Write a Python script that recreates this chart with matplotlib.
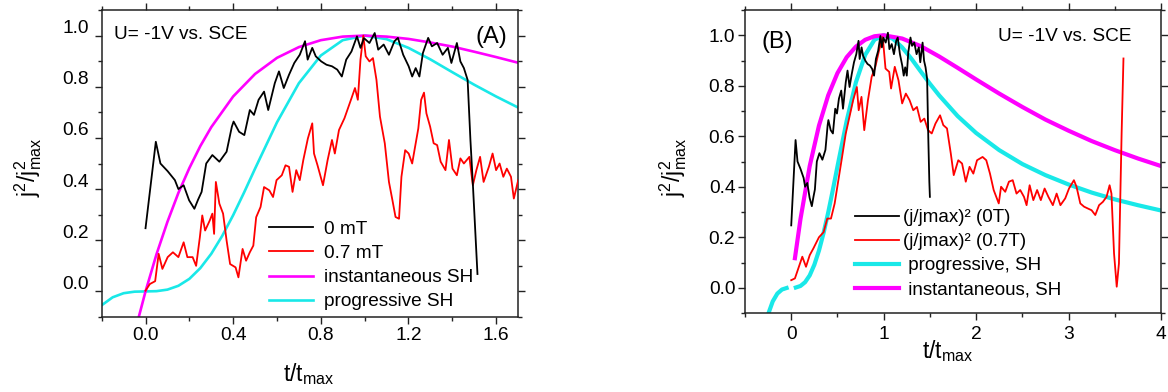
import matplotlib
matplotlib.use("Agg")
import matplotlib.pyplot as plt
import numpy as np
from matplotlib.ticker import MultipleLocator
from matplotlib.transforms import ScaledTranslation

plt.rcParams['font.family'] = ['Liberation Sans', 'DejaVu Sans']
plt.rcParams['mathtext.fontset'] = 'custom'
plt.rcParams['mathtext.rm'] = 'Liberation Sans'
plt.rcParams['mathtext.it'] = 'Liberation Sans:italic'

# ---------------- Panel A data ----------------
bk_t_A = [0.000, 0.047, 0.068, 0.101, 0.134, 0.150, 0.174, 0.199, 0.223, 0.240, 0.256, 0.277,
          0.305, 0.337, 0.370, 0.394, 0.402, 0.427, 0.451, 0.476, 0.495, 0.516, 0.541, 0.560,
          0.590, 0.609, 0.631, 0.655, 0.679, 0.704, 0.728, 0.740, 0.761, 0.777, 0.802, 0.826,
          0.851, 0.875, 0.896, 0.916, 0.940, 0.965, 0.981, 0.997, 1.022, 1.046, 1.062, 1.087,
          1.111, 1.136, 1.152, 1.176, 1.201, 1.217, 1.233, 1.250, 1.266, 1.290, 1.307, 1.331,
          1.356, 1.380, 1.396, 1.421, 1.437, 1.453, 1.470, 1.483, 1.494, 1.515]
bk_y_A = [0.247, 0.585, 0.500, 0.470, 0.435, 0.400, 0.415, 0.356, 0.323, 0.359, 0.389, 0.500,
          0.533, 0.507, 0.546, 0.644, 0.664, 0.624, 0.611, 0.709, 0.690, 0.749, 0.781, 0.709,
          0.814, 0.860, 0.795, 0.847, 0.893, 0.925, 0.978, 0.906, 0.952, 0.919, 0.899, 0.886,
          0.880, 0.867, 0.840, 0.906, 0.938, 0.997, 0.952, 0.990, 0.971, 1.010, 0.945, 0.965,
          0.925, 0.978, 0.991, 0.925, 0.880, 0.840, 0.873, 0.840, 0.932, 0.991, 0.958, 0.971,
          0.925, 0.952, 0.893, 0.971, 0.899, 0.873, 0.827, 0.590, 0.420, 0.068]

rd_t_A = [0.000, 0.020, 0.044, 0.060, 0.077, 0.101, 0.125, 0.150, 0.174, 0.191, 0.215, 0.231,
          0.248, 0.259, 0.272, 0.293, 0.305, 0.313, 0.321, 0.337, 0.354, 0.370, 0.386, 0.411,
          0.424, 0.443, 0.459, 0.476, 0.492, 0.505, 0.525, 0.541, 0.565, 0.582, 0.598, 0.622,
          0.639, 0.655, 0.671, 0.688, 0.704, 0.720, 0.741, 0.761, 0.769, 0.785, 0.810, 0.831,
          0.851, 0.864, 0.883, 0.908, 0.924, 0.940, 0.956, 0.969, 0.981, 0.994, 1.005, 1.022,
          1.038, 1.054, 1.070, 1.092, 1.111, 1.127, 1.141, 1.157, 1.168, 1.185, 1.201, 1.217,
          1.229, 1.245, 1.258, 1.271, 1.282, 1.299, 1.315, 1.331, 1.347, 1.369, 1.385, 1.401,
          1.421, 1.437, 1.453, 1.478, 1.494, 1.510, 1.527, 1.543, 1.567, 1.584, 1.600, 1.616,
          1.633, 1.649, 1.668, 1.681, 1.701]
rd_y_A = [0.003, 0.029, 0.040, 0.147, 0.088, 0.134, 0.153, 0.134, 0.192, 0.134, 0.134, 0.100,
          0.212, 0.297, 0.238, 0.277, 0.304, 0.225, 0.428, 0.343, 0.304, 0.199, 0.107, 0.094,
          0.055, 0.166, 0.120, 0.153, 0.179, 0.290, 0.330, 0.408, 0.395, 0.369, 0.435, 0.454,
          0.493, 0.487, 0.389, 0.474, 0.435, 0.513, 0.598, 0.657, 0.539, 0.493, 0.415, 0.513,
          0.592, 0.539, 0.631, 0.677, 0.716, 0.755, 0.795, 0.749, 0.906, 1.000, 0.919, 0.899,
          0.912, 0.827, 0.683, 0.579, 0.428, 0.356, 0.291, 0.284, 0.448, 0.552, 0.539, 0.500,
          0.559, 0.637, 0.749, 0.777, 0.696, 0.644, 0.579, 0.572, 0.507, 0.474, 0.592, 0.480,
          0.454, 0.520, 0.500, 0.526, 0.415, 0.474, 0.526, 0.428, 0.487, 0.539, 0.474, 0.500,
          0.448, 0.480, 0.448, 0.363, 0.435]

inst_t_A = [-0.04, 0.0, 0.05, 0.10, 0.15, 0.20, 0.25, 0.30, 0.40, 0.50, 0.60, 0.70, 0.80,
            0.90, 1.00, 1.10, 1.20, 1.30, 1.40, 1.50, 1.60, 1.70]
inst_y_A = [-0.130, 0.000, 0.145, 0.272, 0.385, 0.482, 0.568, 0.642, 0.762, 0.850, 0.913,
            0.955, 0.982, 0.996, 1.000, 0.996, 0.987, 0.973, 0.957, 0.937, 0.916, 0.894]

prog_t_A = [-0.20, -0.15, -0.10, -0.05, 0.0, 0.05, 0.10, 0.15, 0.20, 0.25, 0.30, 0.35, 0.40,
            0.45, 0.50, 0.60, 0.70, 0.80, 0.90, 1.00, 1.10, 1.20, 1.30, 1.40, 1.50, 1.60, 1.70]
prog_y_A = [-0.054, -0.023, -0.007, -0.001, 0.000, 0.001, 0.007, 0.022, 0.049, 0.091, 0.147,
            0.217, 0.298, 0.387, 0.480, 0.661, 0.814, 0.922, 0.982, 1.000, 0.986, 0.952,
            0.907, 0.857, 0.808, 0.762, 0.719]

# ---------------- Panel B data ----------------
bk_t_B = bk_t_A[:-1] + [1.50]
bk_y_B = bk_y_A[:-1] + [0.36]

rd_t_B = [0.00, 0.04, 0.12, 0.16, 0.20, 0.24, 0.30, 0.35, 0.39, 0.43, 0.47, 0.51, 0.55, 0.59,
          0.63, 0.67, 0.71, 0.73, 0.76, 0.79, 0.83, 0.87, 0.91, 0.95, 0.99, 1.02, 1.06, 1.08,
          1.12, 1.16, 1.20, 1.24, 1.28, 1.32, 1.36, 1.40, 1.44, 1.48, 1.52, 1.56, 1.61, 1.645,
          1.685, 1.726, 1.758, 1.807, 1.848, 1.888, 1.929, 1.970, 2.010, 2.070, 2.110, 2.150,
          2.190, 2.245, 2.270, 2.315, 2.355, 2.396, 2.437, 2.477, 2.518, 2.546, 2.579, 2.619,
          2.660, 2.700, 2.741, 2.782, 2.830, 2.871, 2.912, 2.964, 3.005, 3.058, 3.086, 3.127,
          3.168, 3.208, 3.249, 3.289, 3.330, 3.371, 3.411, 3.444, 3.464, 3.492, 3.521, 3.545,
          3.574, 3.594]
rd_y_B = [0.030, 0.037, 0.123, 0.083, 0.129, 0.156, 0.200, 0.220, 0.274, 0.274, 0.334, 0.426,
          0.518, 0.611, 0.677, 0.743, 0.795, 0.703, 0.756, 0.624, 0.743, 0.835, 0.875, 0.940,
          0.993, 0.868, 0.855, 0.789, 0.875, 0.822, 0.730, 0.769, 0.743, 0.703, 0.716, 0.657,
          0.670, 0.624, 0.611, 0.650, 0.683, 0.644, 0.631, 0.532, 0.446, 0.505, 0.492, 0.420,
          0.479, 0.452, 0.505, 0.518, 0.505, 0.452, 0.387, 0.334, 0.400, 0.380, 0.420, 0.426,
          0.373, 0.387, 0.360, 0.327, 0.406, 0.347, 0.387, 0.347, 0.393, 0.360, 0.327, 0.373,
          0.327, 0.354, 0.393, 0.426, 0.400, 0.334, 0.321, 0.314, 0.307, 0.288, 0.327, 0.340,
          0.360, 0.406, 0.373, 0.136, 0.004, 0.096, 0.611, 0.908]

prog_t_B = [-0.30, -0.25, -0.20, -0.15, -0.10, -0.05, 0.0, 0.05, 0.10, 0.15, 0.20, 0.25, 0.30,
            0.35, 0.40, 0.45, 0.50, 0.60, 0.70, 0.80, 0.90, 1.00, 1.10, 1.20, 1.30, 1.40, 1.50,
            1.60, 1.80, 2.00, 2.25, 2.50, 2.75, 3.00, 3.25, 3.50, 3.75, 4.00]
prog_y_B = [-0.180, -0.105, -0.054, -0.023, -0.007, -0.001, np.nan, 0.001, 0.007, 0.022,
            0.049, 0.091, 0.147, 0.217, 0.298, 0.387, 0.480, 0.661, 0.814, 0.922, 0.982,
            1.000, 0.986, 0.952, 0.907, 0.857, 0.808, 0.762, 0.680, 0.613, 0.545, 0.490,
            0.446, 0.409, 0.377, 0.350, 0.327, 0.306]

inst_t_B = [0.04, 0.10, 0.20, 0.30, 0.40, 0.50, 0.60, 0.70, 0.80, 0.90, 1.00, 1.20, 1.40,
            1.60, 1.80, 2.00, 2.25, 2.50, 2.75, 3.00, 3.25, 3.50, 3.75, 4.00]
inst_y_B = [0.117, 0.272, 0.482, 0.642, 0.762, 0.850, 0.913, 0.955, 0.982, 0.996, 1.000,
            0.987, 0.957, 0.916, 0.871, 0.825, 0.769, 0.716, 0.666, 0.622, 0.581, 0.545,
            0.512, 0.482]

RED = '#ff0000'
MAG = '#ff00ff'
CYAN = '#19e8e8'
SPINE = '#222222'

W, H, DPI = 1168, 392, 100
fig = plt.figure(figsize=(W / DPI, H / DPI), dpi=DPI)
axA = fig.add_axes([101.7 / W, 1 - 317 / H, 416.3 / W, 307 / H])
axB = fig.add_axes([745 / W, 1 - 313 / H, 416 / W, 303 / H])


def style(ax, xmaj, xmin, xpad, ypad):
    for s in ax.spines.values():
        s.set_linewidth(1.1)
        s.set_color(SPINE)
    ax.xaxis.set_major_locator(MultipleLocator(xmaj))
    ax.xaxis.set_minor_locator(MultipleLocator(xmin))
    ax.yaxis.set_major_locator(MultipleLocator(0.2))
    ax.yaxis.set_minor_locator(MultipleLocator(0.1))
    ax.tick_params(which='major', direction='out', length=5, width=1.0, color=SPINE,
                   labelsize=13.8, top=True, right=True)
    ax.tick_params(which='minor', direction='out', length=3, width=1.0, color=SPINE,
                   top=True, right=True)
    ax.tick_params(axis='x', which='both', pad=xpad)
    ax.tick_params(axis='y', which='both', pad=ypad)


def label_at(ax, axis, text, cx, cy, box, fs):
    # box = (x0_px, top_px, w_px, h_px) of the axes; (cx, cy) = wanted centre in px
    x0, top, w, h = box
    ax_x = (cx - x0) / w
    ax_y = (top + h - cy) / h
    if axis == 'x':
        ax.set_xlabel(text, fontsize=fs)
        ax.xaxis.set_label_coords(ax_x, ax_y)
        ax.xaxis.label.set_va('center')
    else:
        ax.set_ylabel(text, fontsize=fs)
        ax.yaxis.set_label_coords(ax_x, ax_y)
        ax.yaxis.label.set_va('center')
        ax.yaxis.label.set_rotation_mode('anchor')


def fit_legend(ax, handles, labels, fs, x_px, rows_px, hl, htp):
    n = len(rows_px)
    target = (rows_px[-1] - rows_px[0]) / (n - 1)
    ls = 0.3
    top = rows_px[0] - 11
    fs_px = fs * DPI / 72
    leg = None
    for _ in range(4):
        if leg is not None:
            leg.remove()
        leg = ax.legend(handles, labels, frameon=False, fontsize=fs, loc='upper left',
                        bbox_to_anchor=(x_px / W, 1 - top / H),
                        bbox_transform=fig.transFigure, borderpad=0, borderaxespad=0,
                        handlelength=hl, handletextpad=htp, labelspacing=ls)
        fig.canvas.draw()
        r = fig.canvas.get_renderer()
        cs = []
        for t in leg.get_texts():
            bb = t.get_window_extent(r)
            cs.append(H - (bb.y0 + bb.y1) / 2)
        spacing = (cs[-1] - cs[0]) / (n - 1)
        ls = max(0.0, ls + (target - spacing) / fs_px)
        top += rows_px[0] - cs[0]
    leg.remove()
    leg = ax.legend(handles, labels, frameon=False, fontsize=fs, loc='upper left',
                    bbox_to_anchor=(x_px / W, 1 - top / H),
                    bbox_transform=fig.transFigure, borderpad=0, borderaxespad=0,
                    handlelength=hl, handletextpad=htp, labelspacing=ls)
    return leg


# Panel A
axA.plot(prog_t_A, prog_y_A, color=CYAN, lw=1.9, label='progressive SH', zorder=2)
axA.plot(inst_t_A, inst_y_A, color=MAG, lw=1.9, label='instantaneous SH', zorder=2)
axA.plot(rd_t_A, rd_y_A, color=RED, lw=1.3, label='0.7 mT', zorder=3)
axA.plot(bk_t_A, bk_y_A, color='black', lw=1.3, label='0 mT', zorder=3)
axA.set_xlim(-0.2, 1.7)
axA.set_ylim(-0.1, 1.1)
style(axA, 0.4, 0.2, 2.5, 4)
boxA = (101.7, 10, 416.3, 307)
label_at(axA, 'x', r'$\mathregular{t/t_{max}}$', 309, 374, boxA, 16.5)
label_at(axA, 'y', r'$\mathregular{j^2/j^2_{max}}$', 28.5, 167, boxA, 16.5)
axA.text(-0.146, 1.003, 'U= -1V vs. SCE', fontsize=13.7, va='center', ha='left')
axA.text(1.577, 0.996, '(A)', fontsize=17, va='center', ha='center')

# Panel B
axB.plot(prog_t_B, prog_y_B, color=CYAN, lw=3.0, label=' progressive, SH', zorder=2)
axB.plot(inst_t_B, inst_y_B, color=MAG, lw=3.0, label=' instantaneous, SH', zorder=2)
axB.plot(rd_t_B, rd_y_B, color=RED, lw=1.3, label='(j/jmax)² (0.7T)', zorder=3)
axB.plot(bk_t_B, bk_y_B, color='black', lw=1.3, label='(j/jmax)² (0T)', zorder=3)
axB.set_xlim(-0.5, 4.0)
axB.set_ylim(-0.1, 1.1)
style(axB, 1.0, 0.5, 4.5, 2)
boxB = (745, 10, 416, 303)
label_at(axB, 'x', r'$\mathregular{t/t_{max}}$', 948, 351, boxB, 16.5)
label_at(axB, 'y', r'$\mathregular{j^2/j^2_{max}}$', 673, 167, boxB, 16.5)
axB.text(3.68, 0.995, 'U= -1V vs. SCE', fontsize=13.7, va='center', ha='right')
axB.text(-0.152, 0.974, '(B)', fontsize=17, va='center', ha='center')

# Legends
hA, lA = axA.get_legend_handles_labels()
order = [3, 2, 1, 0]
fit_legend(axA, [hA[i] for i in order], [lA[i] for i in order], 13.7, 269,
           [229, 254, 277.6, 302], 2.31, 0.56)
hB, lB = axB.get_legend_handles_labels()
orderB = [3, 2, 0, 1]
fit_legend(axB, [hB[i] for i in orderB], [lB[i] for i in orderB], 13.5, 854.6,
           [218, 242.2, 265.7, 289.6], 2.35, 0.24)

# Panel A y tick labels sit slightly above their ticks in the reference
fig.canvas.draw()
for lab in axA.yaxis.get_majorticklabels():
    lab.set_transform(lab.get_transform() + ScaledTranslation(0, 9 / DPI, fig.dpi_scale_trans))

fig.savefig('out.png', dpi=DPI)
